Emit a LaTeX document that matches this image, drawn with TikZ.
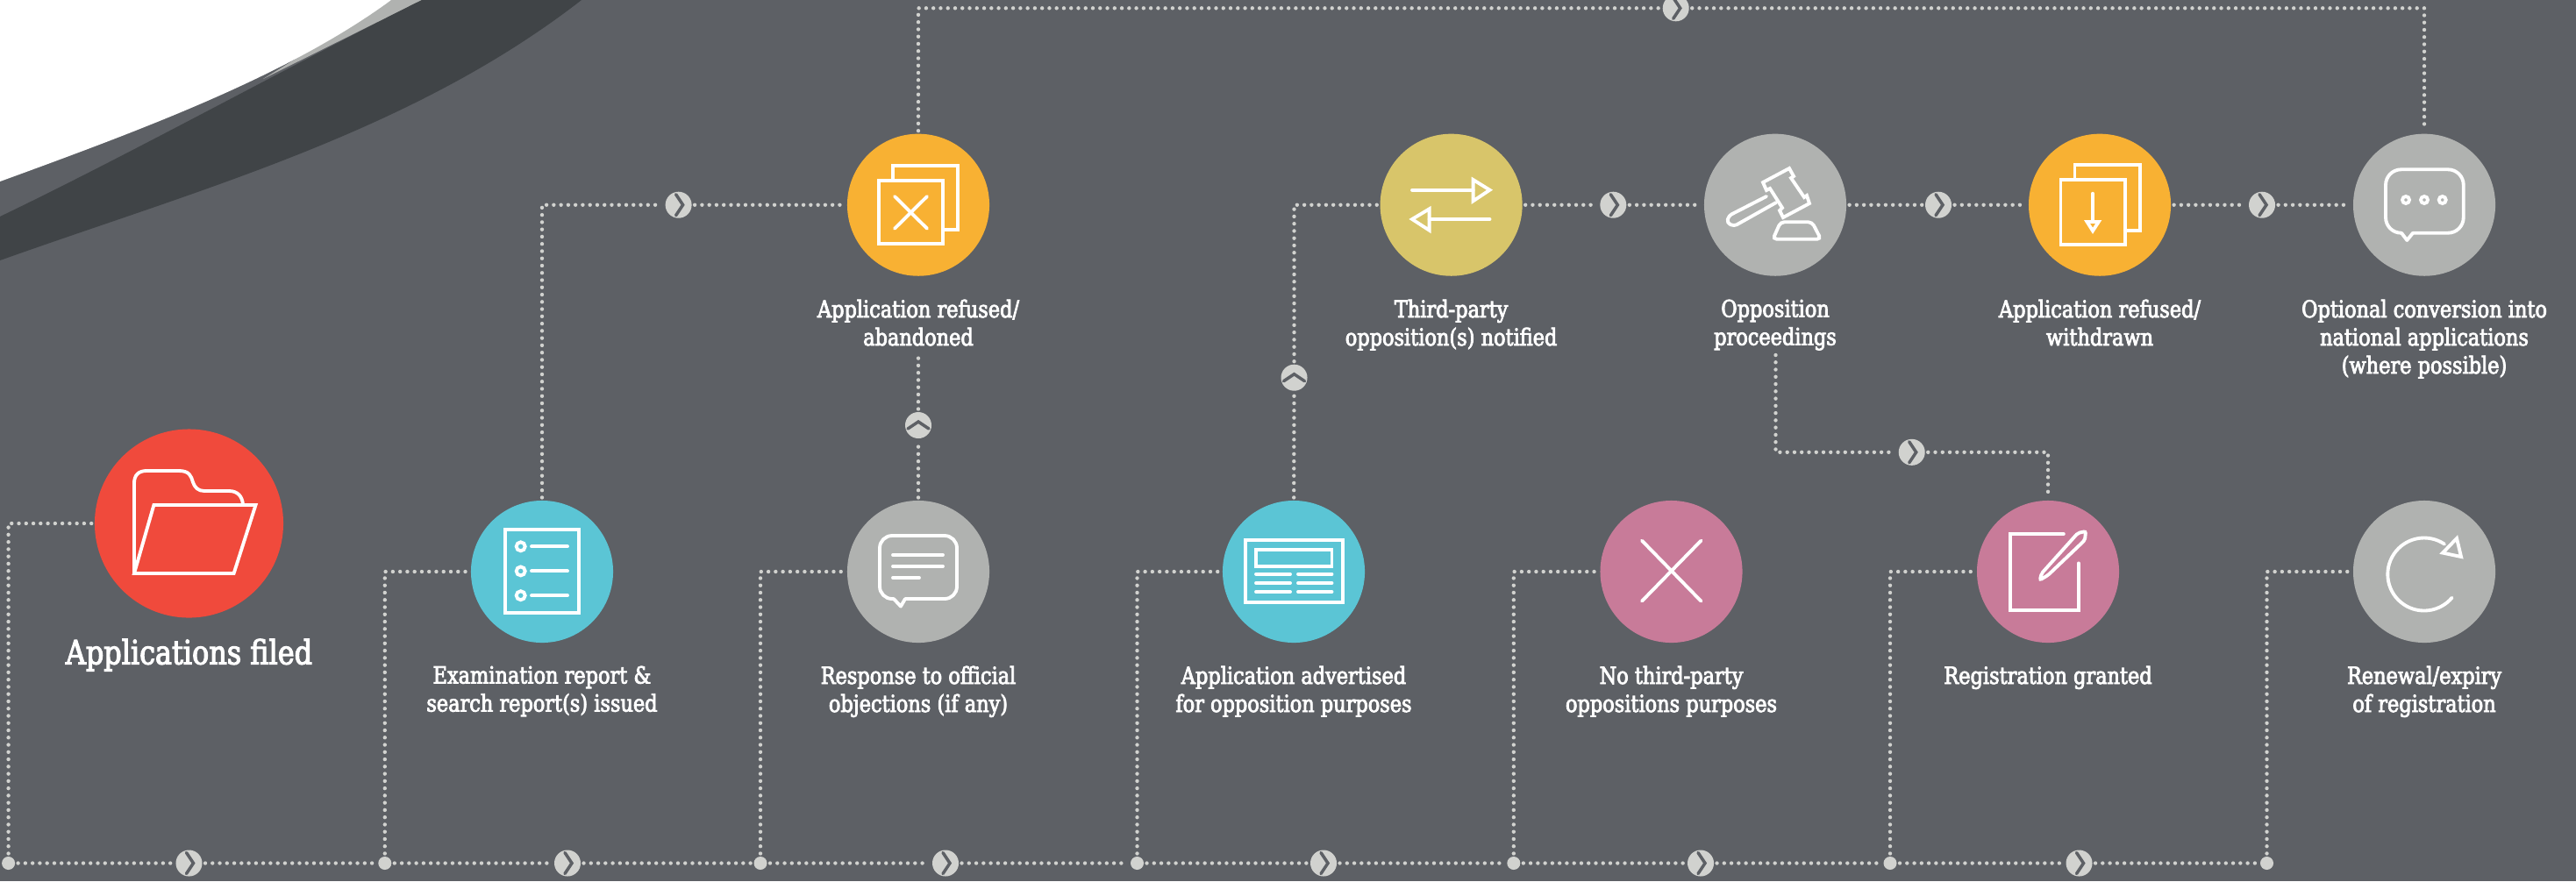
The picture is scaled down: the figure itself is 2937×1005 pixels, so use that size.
\documentclass[tikz,border=0pt]{standalone}
\usepackage{fontspec}
\setmainfont{DejaVu Serif}[FakeStretch=0.84,FakeBold=3]
\usetikzlibrary{arrows}

\definecolor{bgc}{HTML}{5D6065}
\definecolor{bandc}{HTML}{404447}
\definecolor{paleg}{HTML}{B0B2B0}
\definecolor{dotg}{HTML}{D1D2CF}
\definecolor{redc}{HTML}{F04A3C}
\definecolor{tealc}{HTML}{5BC5D5}
\definecolor{orangec}{HTML}{F8B133}
\definecolor{pinkc}{HTML}{C87B99}
\definecolor{yellowc}{HTML}{D8C56A}

\tikzset{
  stepc/.style={circle,inner sep=0,outer sep=1pt,minimum size=1.62cm},
  junc/.style={circle,fill=dotg,inner sep=0,outer sep=1pt,minimum size=0.15cm},
  fwd/.style={circle,fill=dotg,inner sep=0,outer sep=1pt,minimum size=0.3cm,
    path picture={\draw[bgc,line width=1pt,line cap=round] ([shift={(-3,-12)}]path picture bounding box.center) -- ([shift={(5,0)}]path picture bounding box.center) -- ([shift={(-3,12)}]path picture bounding box.center);}},
  upw/.style={circle,fill=dotg,inner sep=0,outer sep=1pt,minimum size=0.3cm,
    path picture={\draw[bgc,line width=1pt,line cap=round] ([shift={(-12,4)}]path picture bounding box.center) -- ([shift={(0,-4)}]path picture bounding box.center) -- ([shift={(12,4)}]path picture bounding box.center);}},
  flow/.style={dotg,line width=1.25pt,line cap=round,dash pattern=on 0pt off 2.35pt},
  icon/.style={white,line width=1.1pt,line cap=round,line join=miter},
  lab/.style={white,align=center,anchor=north,inner sep=0,font=\fontsize{7.6}{9.1}\selectfont},
}

\begin{document}
\begin{tikzpicture}[x=0.01cm,y=-0.01cm]
\clip (0,0) rectangle (2937,1005);
\fill[bgc] (0,0) rectangle (2937,1005);

\fill[paleg] (300,90) -- (481,0) -- (446,0) -- cycle;
\fill[white] (0,0) -- (446,0) .. controls (330,85) and (170,145) .. (0,207) -- cycle;
\fill[bandc] (0,247) .. controls (150,175) and (340,70) .. (481,0) -- (663,0) .. controls (470,150) and (230,215) .. (0,297) -- cycle;

\node[stepc,minimum size=2.15cm,fill=redc] (0) at (215.5,597) {};
\node[stepc,fill=tealc] (1) at (618,652) {};
\node[stepc,fill=paleg] (2) at (1047,652) {};
\node[stepc,fill=tealc] (3) at (1475,652) {};
\node[stepc,fill=pinkc] (4) at (1905.5,652) {};
\node[stepc,fill=pinkc] (5) at (2335,652) {};
\node[stepc,fill=paleg] (6) at (2764,652) {};
\node[stepc,fill=orangec] (7) at (1047,233.7) {};
\node[stepc,fill=yellowc] (8) at (1654.6,233.7) {};
\node[stepc,fill=paleg] (9) at (2024,233.7) {};
\node[stepc,fill=orangec] (10) at (2394,233.7) {};
\node[stepc,fill=paleg] (11) at (2764,233.7) {};

\node[junc] (j0) at (9.6,984.5) {};
\node[junc] (j1) at (438.8,984.5) {};
\node[junc] (j2) at (867,984.5) {};
\node[junc] (j3) at (1296.5,984.5) {};
\node[junc] (j4) at (1725.8,984.5) {};
\node[junc] (j5) at (2155,984.5) {};
\node[junc] (j6) at (2584.5,984.5) {};

\node[fwd] (a0) at (215.5,984.5) {};
\node[fwd] (a1) at (647,984.5) {};
\node[fwd] (a2) at (1078,984.5) {};
\node[fwd] (a3) at (1509,984.5) {};
\node[fwd] (a4) at (1939,984.5) {};
\node[fwd] (a5) at (2370.5,984.5) {};
\node[fwd] (a6) at (773.6,233.7) {};
\node[fwd] (a7) at (1839.3,233.7) {};
\node[fwd] (a8) at (2210,233.7) {};
\node[fwd] (a9) at (2579,233.7) {};
\node[fwd] (a10) at (1910.7,9.3) {};
\node[fwd] (a11) at (2179.7,515.8) {};
\node[upw] (a12) at (1047,485) {};
\node[upw] (a13) at (1475.5,430.7) {};

\coordinate (p0) at (1047,407);
\coordinate (p1) at (2024.5,405);

\draw[flow] (j0) edge (a0);
\draw[flow] (a0) edge (j1);
\draw[flow] (j1) edge (a1);
\draw[flow] (a1) edge (j2);
\draw[flow] (j2) edge (a2);
\draw[flow] (a2) edge (j3);
\draw[flow] (j3) edge (a3);
\draw[flow] (a3) edge (j4);
\draw[flow] (j4) edge (a4);
\draw[flow] (a4) edge (j5);
\draw[flow] (j5) edge (a5);
\draw[flow] (a5) edge (j6);

\draw[flow] (j0) |- (0);
\draw[flow] (j1) |- (1);
\draw[flow] (j2) |- (2);
\draw[flow] (j3) |- (3);
\draw[flow] (j4) |- (4);
\draw[flow] (j5) |- (5);
\draw[flow] (j6) |- (6);

\draw[flow] (1) |- (a6);
\draw[flow] (a6) edge (7);
\draw[flow] (2) edge (a12);
\draw[flow] (a12) edge (p0);
\draw[flow] (7) |- (a10);
\draw[flow] (a10) -| (11);
\draw[flow] (3) edge (a13);
\draw[flow] (a13) |- (8);
\draw[flow] (8) edge (a7);
\draw[flow] (a7) edge (9);
\draw[flow] (9) edge (a8);
\draw[flow] (a8) edge (10);
\draw[flow] (10) edge (a9);
\draw[flow] (a9) edge (11);
\draw[flow] (p1) |- (a11);
\draw[flow] (a11) -| (5);

% folder
\draw[icon] (153,654) -- (153,551) .. controls (153,542) and (158,537) .. (167,537) -- (204,537) .. controls (216,537) and (218,543) .. (220,550) .. controls (222,556) and (226,560) .. (233,560) -- (261,560) .. controls (271,560) and (276,566) .. (277,575);
\draw[icon] (175.4,576) -- (291.5,576) -- (266.6,654) -- (153,654) -- cycle;

% report
\draw[icon] (576,604) rectangle (660,699);
\draw[icon] (593.7,623.3) circle (5);
\draw[icon] (593.7,651.4) circle (5);
\draw[icon] (593.7,679.2) circle (5);
\draw[icon] (606,623.3) -- (647,623.3);
\draw[icon] (606,651.4) -- (647,651.4);
\draw[icon] (606,679.2) -- (647,679.2);

% bubble
\draw[icon,rounded corners=4pt] (1019,683) -- (1003,683) -- (1003,611) -- (1091,611) -- (1091,683) -- (1032,683);
\draw[icon,line join=round] (1019,683) -- (1027,691.6) -- (1032,683);
\draw[icon] (1018,633) -- (1075,633);
\draw[icon] (1018,646) -- (1075,646);
\draw[icon] (1018,659) -- (1048,659);

% paper
\draw[icon] (1420,615.6) rectangle (1531,687);
\draw[icon] (1432,626.6) rectangle (1518.5,645.7);
\draw[icon] (1432,654.8) -- (1471,654.8);
\draw[icon] (1432,665) -- (1471,665);
\draw[icon] (1432,675) -- (1471,675);
\draw[icon] (1480,654.8) -- (1518.5,654.8);
\draw[icon] (1480,665) -- (1518.5,665);
\draw[icon] (1480,675) -- (1518.5,675);

% cross
\draw[icon] (1872,616.6) -- (1939.4,685.6);
\draw[icon] (1939.4,616.6) -- (1872,685.6);

% pen
\draw[icon] (2352.8,609) -- (2291.8,609) -- (2291.8,696) -- (2369.8,696) -- (2369.8,642.4);
\draw[icon,rounded corners=0.6pt] (2325.8,661.5) -- (2327.7,654) -- (2369,608) -- (2378,606) -- (2377,616) -- (2335,656) -- cycle;

% renew
\draw[icon] (2787,620.6) arc (-56:-320:41.5);
\draw[icon] (2801,614) -- (2785,630.6) -- (2806,635) -- cycle;

% arrows
\draw[icon] (1610,216.7) -- (1679.6,216.7);
\draw[icon] (1679.6,205) -- (1698.5,216.7) -- (1679.6,229.3) -- cycle;
\draw[icon] (1698.5,250) -- (1629.6,250);
\draw[icon] (1629.6,238.3) -- (1610,250) -- (1629.6,262.7) -- cycle;

% gavel
\draw[icon] (2010,208) -- (2040,192) -- (2045,201) -- (2042,203) -- (2057,225) -- (2060,223) -- (2063,232) -- (2033,248) -- (2029,240) -- (2032,237) -- (2018,215) -- (2014,217) -- cycle;
\draw[icon,rounded corners=1pt] (2014,224) -- (1971,246) -- (1969,254) -- (1977,258) -- (2025,231);
\draw[icon,rounded corners=1.2pt] (2021.4,272.7) -- (2030,253.3) -- (2066,253.3) -- (2076,272.7) -- cycle;

% sheets
\draw[icon] (2365.5,203.3) -- (2365.5,188.3) -- (2439.7,188.3) -- (2439.7,262.7) -- (2422.8,262.7);
\draw[icon] (2349.5,205) rectangle (2422.8,279.3);
\draw[icon] (2386,220.7) -- (2386,253);
\draw[icon] (2379.5,253) -- (2392.7,253) -- (2386,263.3) -- cycle;

% dots bubble
\draw[icon,rounded corners=5pt] (2738,265.7) -- (2720,265.7) -- (2720,193.3) -- (2808.7,193.3) -- (2808.7,265.7) -- (2751,265.7);
\draw[icon,line join=round] (2738,265.7) -- (2744.3,274) -- (2751,265.7);
\draw[icon] (2743,228) circle (4);
\draw[icon] (2764,228) circle (4);
\draw[icon] (2784.7,228) circle (4);

% refused sheets
\draw[icon] (1018,205) -- (1018,189) -- (1091.7,189) -- (1091.7,261.7) -- (1075,261.7);
\draw[icon] (1001.7,206) rectangle (1075,278);
\draw[icon] (1020,224) -- (1057,260.7);
\draw[icon] (1057,224) -- (1020,260.7);

\node[white,anchor=north,inner sep=0,font=\fontsize{10.8}{12}\selectfont] (t0) at (215.5,728) {Applications filed};
\node[lab] (t1) at (618,759) {Examination report \&\\search report(s) issued};
\node[lab] (t2) at (1047,759) {Response to official\\objections (if any)};
\node[lab] (t3) at (1475,759) {Application advertised\\for opposition purposes};
\node[lab] (t4) at (1905.5,759) {No third-party\\oppositions purposes};
\node[lab] (t5) at (2335,759) {Registration granted};
\node[lab] (t6) at (2764,759) {Renewal/expiry\\of registration};
\node[lab] (t7) at (1047,341) {Application refused/\\abandoned};
\node[lab] (t8) at (1654.6,341) {Third-party\\opposition(s) notified};
\node[lab] (t9) at (2024,341) {Opposition\\proceedings};
\node[lab] (t10) at (2394,341) {Application refused/\\withdrawn};
\node[lab] (t11) at (2764,341) {Optional conversion into\\national applications\\(where possible)};

\end{tikzpicture}
\end{document}
